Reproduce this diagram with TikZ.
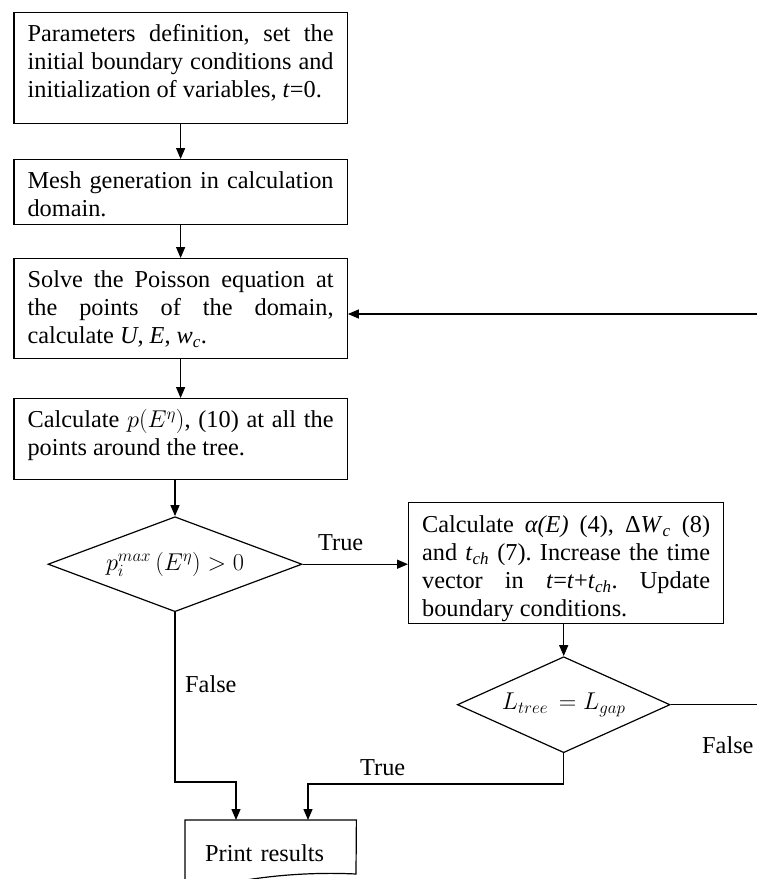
\RequirePackage{fix-cm}
\documentclass[tikz,border=0pt]{standalone}
\usepackage{fontspec}
\setmainfont{Liberation Serif}
\usetikzlibrary{shapes.geometric,arrows.meta,calc}
\hyphenpenalty=10000
\exhyphenpenalty=10000
\frenchspacing
\hbadness=10000
\begin{document}
\begin{tikzpicture}[x=1pt,y=-1pt,
  every node/.style={font=\fontsize{24.3}{28}\selectfont},
  procbox/.style={draw, line width=1.2pt, rectangle, anchor=north west, inner ysep=0pt, align=justify},
  bigbox/.style={procbox, inner xsep=13.7pt, text width=306pt, minimum width=333.4pt},
  decision/.style={draw, diamond, line width=1.2pt, inner sep=0pt},
  arr/.style={line width=1.4pt, -{Triangle[length=11pt,width=9pt]}},
  conn/.style={line width=1.4pt},
  lbl/.style={anchor=base west, inner sep=0pt}
]
\useasboundingbox (0,0) rectangle (757,879);
\clip (0,0) rectangle (757,879);

% process boxes
\node[bigbox, text height=29.3pt, text depth=81.7pt] (b1) at (13.3,11.7)
  {Parameters definition, set the\linebreak{} initial boundary conditions and\linebreak{} initialization of variables, \textit{t}=0.};
\node[bigbox, text height=29.3pt, text depth=35.7pt] (b2) at (13.3,159)
  {Mesh generation in calculation\linebreak{} domain.};
\node[bigbox, text height=29.3pt, text depth=70.7pt] (b3) at (13.3,258)
  {Solve the Poisson equation at\linebreak{} the points of the domain,\linebreak{} calculate \textit{U}, \textit{E}, \textit{w}\textsubscript{\textit{c}}.};
\node[bigbox, text height=29.3pt, text depth=51.7pt] (b4) at (13.3,398)
  {Calculate $p(E^{\eta})$, (10) at all the\linebreak{} points around the tree.};
\node[procbox, inner xsep=13.5pt, text width=288pt, minimum width=315pt, text height=30.3pt, text depth=90.7pt] (b5) at (408,502)
  {Calculate \textit{α(E)} (4), Δ\textit{W}\textsubscript{\textit{c}} (8)\linebreak{} and \textit{t}\textsubscript{\textit{ch}} (7). Increase the time\linebreak{} vector in \textit{t}=\textit{t}+\textit{t}\textsubscript{\textit{ch}}. Update\linebreak{} boundary conditions.};

% decisions
\node[decision, aspect=2.67, minimum width=254pt, minimum height=95pt] (d1) at (175,564.2) {$p_i^{max}\,(E^{\eta}) > 0$};
\node[decision, aspect=2.2, minimum width=212.7pt, minimum height=96pt] (d2) at (563.7,704.7) {$L_{tree}\, = L_{gap}$};

% print results (document shape)
\node[anchor=north west, minimum width=171pt, inner xsep=20pt, inner ysep=0pt, text width=131pt, align=left, text height=41.7pt, text depth=30pt] (print) at (185,820) {Print results};
\draw[line width=1.2pt] (print.north west) -- (print.north east) -- (356,874)
  .. controls (315,872) and (275,875) .. (240,881)
  .. controls (215,886) and (200,890) .. (185,890) -- cycle;

% free ends / junction points
\coordinate (loopR) at (757,314);
\coordinate (falseR) at (757,704.7);
\coordinate (p1) at ($(print.north west)+(51,0)$);
\coordinate (p2) at ($(print.north west)+(123,0)$);

% connectors
\draw[arr] (b1.south) -- (b2.north);
\draw[arr] (b2.south) -- (b3.north);
\draw[arr] (b3.south) -- (b4.north);
\draw[arr] (b4.south -| d1.north) -- (d1.north);
\draw[arr] (d1.east) -- (d1.east -| b5.west);
\draw[arr] (b5.south -| d2.north) -- (d2.north);
\draw[conn] (d2.east) -- (falseR);
\draw[arr] (loopR) -- (loopR -| b3.east);
\draw[arr] (d1.south) |- ($(p1)+(0,-38)$) -- (p1);
\draw[arr] (d2.south) |- ($(p2)+(0,-36)$) -- (p2);

% labels
\node[lbl] (tTrue1) at (318,550) {True};
\node[lbl] (tFalse1) at (185,692) {False};
\node[lbl] (tTrue2) at (360,775) {True};
\node[lbl] (tFalse2) at (702,753) {False};
\end{tikzpicture}
\end{document}
